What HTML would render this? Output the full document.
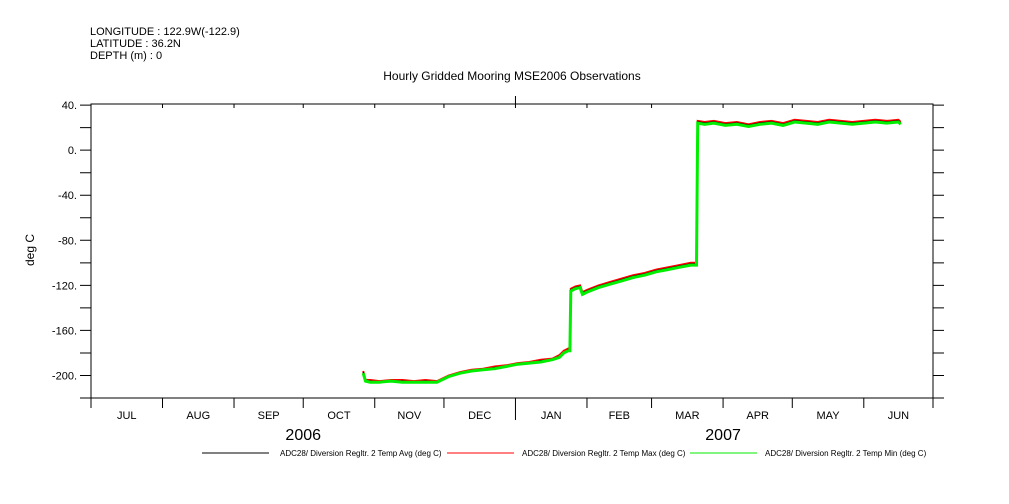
<!DOCTYPE html>
<html><head><meta charset="utf-8"><style>
body{margin:0;background:#fff;}
svg{display:block;font-family:"Liberation Sans",sans-serif;}
</style></head><body>
<svg id="chart" width="1009" height="504" viewBox="0 0 1009 504">
<g font-size="11" fill="#000">
<text x="90" y="35">LONGITUDE : 122.9W(-122.9)</text>
<text x="90" y="47">LATITUDE : 36.2N</text>
<text x="90" y="59">DEPTH (m) : 0</text>
</g>
<text x="512" y="80" font-size="12" text-anchor="middle">Hourly Gridded Mooring MSE2006 Observations</text>
<text transform="translate(34,250) rotate(-90)" font-size="12" text-anchor="middle">deg C</text>
<g id="axes"></g>
<g id="series"></g>
<g id="legend" font-size="8"></g>
</svg>
<script>
const yTicks=[40,0,-40,-80,-120,-160,-200];
const months=["JUL","AUG","SEP","OCT","NOV","DEC","JAN","FEB","MAR","APR","MAY","JUN"];
const monthDays=[0,31,62,92,123,153,184,215,243,274,304,335,365];
const years=["2006","2007"];
const days=[118,119,121,125,130,135,140,145,150,152,155,160,165,170,175,180,185,190,195,200,203,205,207,207.6,208,210,212,213,215,220,225,230,235,240,245,250,255,260,262.5,263,266,270,275,280,285,290,295,300,305,310,315,320,325,330,335,340,345,350,351];
const avgVals=[-197,-205,-205,-206,-205,-205,-206,-205,-206,-204,-201,-198,-196,-195,-193,-192,-190,-189,-187,-186,-183,-180,-177,-178,-124,-122,-121,-127,-125,-121,-118,-115,-112,-110,-107,-105,-103,-101,-101,25,24,25,23,24,22,24,25,23,26,25,24,26,25,24,25,26,25,26,24];
const maxVals=[-196,-204,-204,-205,-204,-204,-205,-204,-205,-203,-200,-197,-195,-194,-192,-191,-189,-188,-186,-185,-182,-178,-176,-177,-123,-121,-120,-126,-124,-120,-117,-114,-111,-109,-106,-104,-102,-100,-100,26,25,26,24,25,23,25,26,24,27,26,25,27,26,25,26,27,26,27,25];
const minVals=[-198,-205,-206,-206,-205,-206,-206,-206,-206,-204,-201,-198,-196,-195,-194,-192,-190,-189,-188,-186,-184,-180,-178,-178,-125,-123,-122,-128,-126,-122,-119,-116,-113,-111,-108,-106,-104,-102,-102,24,23,24,22,23,21,23,24,22,25,24,23,25,24,23,24,25,24,25,23];
const NS="http://www.w3.org/2000/svg";
const X0=91,X1=933,Y0=104,Y1=398,D0=0,D1=365,V0=-220,V1=41;
const xs=d=>X0+(d-D0)/(D1-D0)*(X1-X0);
const ys=v=>Y1-(v-V0)/(V1-V0)*(Y1-Y0);
function mk(tag,attrs,parent){const e=document.createElementNS(NS,tag);for(const k in attrs)e.setAttribute(k,attrs[k]);parent.appendChild(e);return e;}
const ax=document.getElementById('axes');
const box=mk('rect',{x:X0,y:Y0,width:X1-X0,height:Y1-Y0,fill:'none',stroke:'#000','stroke-width':1},ax);


for(let v=-220;v<=40;v+=20){
  const y=ys(v);
  const t=mk('path',{d:`M${X0-11} ${y}H${X0}M${X1} ${y}H${X1+11}`,stroke:'#000'},ax);
  
  
}
yTicks.forEach(v=>{
  const t=mk('text',{x:X0-14,y:ys(v)+4,'font-size':11,'text-anchor':'end'},ax);
  t.textContent=v+'.';
  
  
});
monthDays.forEach((d,i)=>{
  const x=xs(d);const big=(d===184);
  const t=mk('path',{d:`M${x} ${Y1}V${big?Y1+22:Y1+10}M${x} ${Y0}V${Y0+4}`+(big?`M${x} ${Y0}V${Y0-8}`:''),stroke:'#000'},ax);
  
  
});
months.forEach((m,i)=>{
  const t=mk('text',{x:xs((monthDays[i]+monthDays[i+1])/2),y:Y1+21,'font-size':11,'text-anchor':'middle'},ax);
  t.textContent=m;
  
  
});
years.forEach((yr,i)=>{
  const t=mk('text',{x:i===0?xs(92):xs(274),y:Y1+42,'font-size':16,'text-anchor':'middle'},ax);
  t.textContent=yr;
  
  
});
const sg=document.getElementById('series');
function line(vals,color,w,name){
  const pts=days.map((d,i)=>xs(d).toFixed(1)+','+ys(vals[i]).toFixed(1)).join(' ');
  const p=mk('polyline',{points:pts,fill:'none',stroke:color,'stroke-width':w},sg);
  
  
}
line(maxVals,'#ff0000',2,'max-temp-series');
line(avgVals,'#000000',1.5,'avg-temp-series');
line(minVals,'#00ee00',3,'min-temp-series');
const lg=document.getElementById('legend');
const leg=[['#000','ADC28/ Diversion Regltr. 2 Temp Avg (deg C)',202,280],['#ff0000','ADC28/ Diversion Regltr. 2 Temp Max (deg C)',447,522],['#00ee00','ADC28/ Diversion Regltr. 2 Temp Min (deg C)',690,765]];
leg.forEach(l=>{
  const p=mk('line',{x1:l[2],x2:l[2]+67,y1:453,y2:453,stroke:l[0]},lg);
  
  
  const t=mk('text',{x:l[3],y:456},lg);
  t.textContent=l[1];
  
  
});
</script>
</body></html>
